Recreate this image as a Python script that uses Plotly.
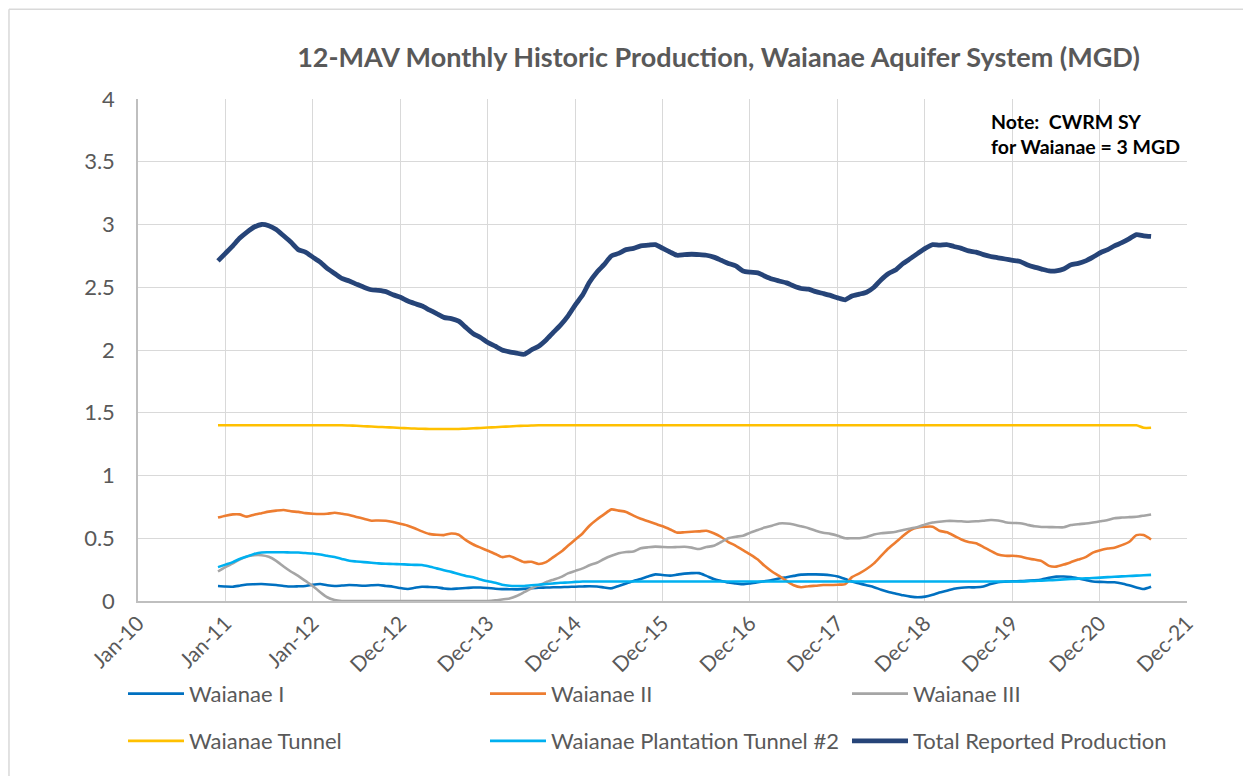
import pandas as pd
import plotly.graph_objects as go

# ---------------- data (12-month moving averages, MGD) ----------------
start_month = "2010-12-01"
n_months = 129

waianae_1 = [
    0.119, 0.115, 0.114, 0.122, 0.132, 0.134, 0.135, 0.132, 0.127, 0.120,
    0.115, 0.117, 0.120, 0.130, 0.135, 0.125, 0.119, 0.123, 0.127, 0.125,
    0.122, 0.125, 0.127, 0.120, 0.114, 0.103, 0.096, 0.105, 0.114, 0.112,
    0.109, 0.100, 0.096, 0.100, 0.103, 0.107, 0.108, 0.104, 0.098, 0.095,
    0.094, 0.093, 0.097, 0.102, 0.106, 0.107, 0.109, 0.110, 0.112, 0.114,
    0.116, 0.118, 0.115, 0.108, 0.101, 0.120, 0.140, 0.160, 0.175, 0.195,
    0.212, 0.207, 0.202, 0.210, 0.218, 0.222, 0.222, 0.200, 0.175, 0.160,
    0.147, 0.140, 0.133, 0.140, 0.149, 0.158, 0.168, 0.180, 0.190, 0.200,
    0.210, 0.212, 0.212, 0.210, 0.205, 0.195, 0.175, 0.155, 0.140, 0.125,
    0.110, 0.090, 0.072, 0.058, 0.045, 0.035, 0.030, 0.035, 0.050, 0.068,
    0.082, 0.098, 0.106, 0.109, 0.109, 0.115, 0.135, 0.150, 0.154, 0.157,
    0.158, 0.160, 0.165, 0.172, 0.185, 0.194, 0.195, 0.190, 0.180, 0.168,
    0.155, 0.152, 0.150, 0.149, 0.140, 0.125, 0.108, 0.096, 0.114,
]

waianae_2 = [
    0.665, 0.680, 0.690, 0.690, 0.672, 0.688, 0.700, 0.712, 0.720, 0.725,
    0.715, 0.710, 0.700, 0.695, 0.693, 0.695, 0.703, 0.695, 0.685, 0.670,
    0.655, 0.640, 0.642, 0.640, 0.630, 0.615, 0.600, 0.580, 0.555, 0.535,
    0.528, 0.525, 0.538, 0.528, 0.485, 0.450, 0.425, 0.400, 0.375, 0.350,
    0.358, 0.335, 0.310, 0.313, 0.295, 0.310, 0.350, 0.390, 0.440, 0.490,
    0.540, 0.600, 0.650, 0.690, 0.730, 0.720, 0.710, 0.680, 0.655, 0.635,
    0.615, 0.595, 0.570, 0.545, 0.548, 0.552, 0.555, 0.560, 0.540, 0.510,
    0.470, 0.440, 0.405, 0.370, 0.330, 0.280, 0.235, 0.200, 0.160, 0.125,
    0.110, 0.118, 0.122, 0.127, 0.128, 0.130, 0.135, 0.190, 0.220, 0.255,
    0.300, 0.360, 0.420, 0.470, 0.520, 0.565, 0.585, 0.592, 0.592, 0.560,
    0.547, 0.520, 0.490, 0.470, 0.460, 0.430, 0.400, 0.370, 0.360, 0.360,
    0.355, 0.340, 0.330, 0.318, 0.280, 0.274, 0.290, 0.310, 0.330, 0.350,
    0.385, 0.405, 0.418, 0.425, 0.445, 0.470, 0.525, 0.525, 0.490,
]

waianae_3 = [
    0.235, 0.270, 0.300, 0.330, 0.355, 0.365, 0.365, 0.352, 0.320, 0.275,
    0.235, 0.200, 0.160, 0.120, 0.070, 0.030, 0.008, 0.000, 0.000, 0.000,
    0.000, 0.000, 0.000, 0.000, 0.000, 0.000, 0.000, 0.000, 0.000, 0.000,
    0.000, 0.000, 0.000, 0.000, 0.000, 0.000, 0.000, 0.000, 0.005, 0.012,
    0.020, 0.040, 0.070, 0.100, 0.125, 0.150, 0.170, 0.190, 0.220, 0.240,
    0.260, 0.285, 0.305, 0.335, 0.360, 0.380, 0.390, 0.395, 0.420, 0.428,
    0.433, 0.430, 0.428, 0.430, 0.432, 0.425, 0.414, 0.430, 0.440, 0.470,
    0.500, 0.512, 0.520, 0.545, 0.565, 0.585, 0.600, 0.618, 0.618, 0.610,
    0.595, 0.580, 0.560, 0.544, 0.535, 0.520, 0.500, 0.500, 0.500, 0.510,
    0.530, 0.540, 0.545, 0.552, 0.565, 0.578, 0.590, 0.610, 0.625, 0.632,
    0.638, 0.638, 0.635, 0.632, 0.635, 0.640, 0.645, 0.642, 0.628, 0.622,
    0.620, 0.608, 0.595, 0.590, 0.589, 0.588, 0.587, 0.605, 0.612, 0.617,
    0.625, 0.635, 0.645, 0.660, 0.665, 0.668, 0.671, 0.680, 0.690,
]

waianae_tunnel = [
    1.400, 1.400, 1.400, 1.400, 1.400, 1.400, 1.400, 1.400, 1.400, 1.400,
    1.400, 1.400, 1.400, 1.400, 1.400, 1.400, 1.400, 1.400, 1.398, 1.396,
    1.393, 1.390, 1.387, 1.385, 1.382, 1.379, 1.376, 1.374, 1.372, 1.371,
    1.370, 1.370, 1.370, 1.371, 1.373, 1.376, 1.379, 1.382, 1.385, 1.388,
    1.391, 1.394, 1.396, 1.398, 1.400, 1.400, 1.400, 1.400, 1.400, 1.400,
    1.400, 1.400, 1.400, 1.400, 1.400, 1.400, 1.400, 1.400, 1.400, 1.400,
    1.400, 1.400, 1.400, 1.400, 1.400, 1.400, 1.400, 1.400, 1.400, 1.400,
    1.400, 1.400, 1.400, 1.400, 1.400, 1.400, 1.400, 1.400, 1.400, 1.400,
    1.400, 1.400, 1.400, 1.400, 1.400, 1.400, 1.400, 1.400, 1.400, 1.400,
    1.400, 1.400, 1.400, 1.400, 1.400, 1.400, 1.400, 1.400, 1.400, 1.400,
    1.400, 1.400, 1.400, 1.400, 1.400, 1.400, 1.400, 1.400, 1.400, 1.400,
    1.400, 1.400, 1.400, 1.400, 1.400, 1.400, 1.400, 1.400, 1.400, 1.400,
    1.400, 1.400, 1.400, 1.400, 1.400, 1.400, 1.400, 1.380, 1.380,
]

plantation_tunnel_2 = [
    0.270, 0.290, 0.310, 0.334, 0.355, 0.375, 0.387, 0.388, 0.388, 0.388,
    0.387, 0.386, 0.382, 0.378, 0.370, 0.360, 0.350, 0.335, 0.320, 0.315,
    0.310, 0.305, 0.300, 0.297, 0.295, 0.293, 0.290, 0.288, 0.287, 0.275,
    0.260, 0.245, 0.232, 0.215, 0.200, 0.190, 0.172, 0.158, 0.145, 0.130,
    0.122, 0.120, 0.120, 0.125, 0.130, 0.135, 0.140, 0.145, 0.148, 0.152,
    0.155, 0.155, 0.155, 0.155, 0.155, 0.155, 0.155, 0.155, 0.155, 0.155,
    0.155, 0.155, 0.155, 0.155, 0.155, 0.155, 0.155, 0.155, 0.155, 0.155,
    0.155, 0.155, 0.155, 0.155, 0.155, 0.155, 0.155, 0.155, 0.155, 0.155,
    0.155, 0.155, 0.155, 0.155, 0.155, 0.155, 0.155, 0.155, 0.155, 0.155,
    0.155, 0.155, 0.155, 0.155, 0.155, 0.155, 0.155, 0.155, 0.155, 0.155,
    0.155, 0.155, 0.155, 0.155, 0.155, 0.155, 0.155, 0.155, 0.155, 0.155,
    0.155, 0.158, 0.160, 0.162, 0.165, 0.168, 0.172, 0.175, 0.178, 0.180,
    0.183, 0.186, 0.190, 0.193, 0.196, 0.199, 0.202, 0.205, 0.208,
]

total_production = [
    2.710, 2.770, 2.830, 2.890, 2.940, 2.980, 3.000, 2.990, 2.960, 2.910,
    2.860, 2.800, 2.780, 2.740, 2.700, 2.650, 2.610, 2.570, 2.550, 2.525,
    2.500, 2.480, 2.475, 2.465, 2.440, 2.420, 2.390, 2.370, 2.350, 2.320,
    2.290, 2.260, 2.250, 2.230, 2.180, 2.130, 2.100, 2.060, 2.030, 2.000,
    1.985, 1.975, 1.966, 2.000, 2.030, 2.080, 2.140, 2.200, 2.270, 2.360,
    2.440, 2.540, 2.620, 2.680, 2.750, 2.770, 2.800, 2.810, 2.830, 2.835,
    2.840, 2.810, 2.780, 2.755, 2.760, 2.763, 2.760, 2.755, 2.740, 2.715,
    2.690, 2.670, 2.630, 2.620, 2.615, 2.590, 2.565, 2.550, 2.535, 2.510,
    2.490, 2.485, 2.465, 2.450, 2.435, 2.415, 2.400, 2.430, 2.445, 2.460,
    2.500, 2.560, 2.610, 2.640, 2.690, 2.730, 2.770, 2.810, 2.840, 2.835,
    2.840, 2.825, 2.810, 2.790, 2.780, 2.760, 2.745, 2.735, 2.725, 2.715,
    2.705, 2.680, 2.660, 2.645, 2.630, 2.630, 2.645, 2.680, 2.690, 2.710,
    2.740, 2.775, 2.800, 2.830, 2.855, 2.885, 2.920, 2.910, 2.905,
]

tick_dates = ["2010-01-01", "2011-01-01", "2012-01-01", "2012-12-31", "2013-12-31",
              "2014-12-31", "2015-12-31", "2016-12-30", "2017-12-30", "2018-12-30",
              "2019-12-30", "2020-12-29", "2021-12-29"]
tick_labels = ["Jan-10", "Jan-11", "Jan-12", "Dec-12", "Dec-13", "Dec-14", "Dec-15",
               "Dec-16", "Dec-17", "Dec-18", "Dec-19", "Dec-20", "Dec-21"]
y_ticks = [0, 0.5, 1, 1.5, 2, 2.5, 3, 3.5, 4]
y_labels = ["0", "0.5", "1", "1.5", "2", "2.5", "3", "3.5", "4"]

title_text = "12-MAV Monthly Historic Production, Waianae Aquifer System (MGD)"
note_text = "Note:  CWRM SY<br>for Waianae = 3 MGD"

# ---------------- figure ----------------
months = pd.date_range(start_month, periods=n_months, freq="MS")
FONT = "Lato, 'Open Sans', 'Liberation Sans', sans-serif"
GREY = "#595959"

series = [
    ("Waianae I", waianae_1, "#0070C0", 2.6, "legend"),
    ("Waianae II", waianae_2, "#ED7D31", 2.6, "legend"),
    ("Waianae III", waianae_3, "#A5A5A5", 2.6, "legend"),
    ("Waianae Tunnel", waianae_tunnel, "#FFC000", 2.6, "legend2"),
    ("Waianae Plantation Tunnel #2", plantation_tunnel_2, "#00B0F0", 2.6, "legend2"),
    ("Total Reported Production", total_production, "#264478", 4.8, "legend2"),
]

fig = go.Figure()
for name, vals, color, width, leg in series:
    fig.add_trace(go.Scatter(
        x=months, y=vals, name=name, mode="lines",
        line=dict(color=color, width=width, shape="spline", smoothing=0.6),
        legend=leg,
    ))

legend_common = dict(
    orientation="h", xanchor="left", yanchor="middle",
    font=dict(family=FONT, size=22, color=GREY),
    bgcolor="rgba(0,0,0,0)", entrywidth=291, entrywidthmode="pixels",
    itemwidth=56, traceorder="normal",
)

fig.update_layout(
    width=1243, height=768,
    margin=dict(l=130, r=64, t=91, b=175, autoexpand=False),
    paper_bgcolor="white", plot_bgcolor="white",
    title=dict(text=title_text, x=0.5716, xanchor="center", y=0.935, yanchor="middle",
               font=dict(family=FONT, size=27, color=GREY, weight="bold")),
    xaxis=dict(
        type="date", range=[tick_dates[0], tick_dates[-1]],
        tickmode="array", tickvals=tick_dates, ticktext=tick_labels,
        tickangle=-45, tickfont=dict(family=FONT, size=21, color=GREY),
        showgrid=True, gridcolor="#D9D9D9", gridwidth=1.3,
        showline=True, linecolor="#BFBFBF", linewidth=1.5,
        ticks="", zeroline=False,
    ),
    yaxis=dict(
        range=[0, 4], tickmode="array", tickvals=y_ticks, ticktext=y_labels,
        tickfont=dict(family=FONT, size=22, color=GREY),
        showgrid=True, gridcolor="#D9D9D9", gridwidth=1.3,
        showline=True, linecolor="#BFBFBF", linewidth=1.5,
        ticks="", ticklabelstandoff=17, zeroline=False,
    ),
    legend=dict(x=-0.0143, y=-0.185, **legend_common),
    legend2=dict(x=-0.0143, y=-0.279, **legend_common),
    annotations=[dict(
        text=note_text, xref="paper", yref="paper", x=0.811, y=0.982,
        xanchor="left", yanchor="top", align="left", showarrow=False,
        font=dict(family=FONT, size=19.5, color="black", weight="bold"),
    )],
    shapes=[
        dict(type="line", xref="paper", yref="paper", x0=-0.123, x1=1.2, y0=1.179, y1=1.179,
             line=dict(color="#D9D9D9", width=1.5)),
        dict(type="line", xref="paper", yref="paper", x0=-0.123, x1=-0.123, y0=1.179, y1=-0.4,
             line=dict(color="#D9D9D9", width=1.5)),
    ],
    showlegend=True,
)

fig.write_html("out.html")
